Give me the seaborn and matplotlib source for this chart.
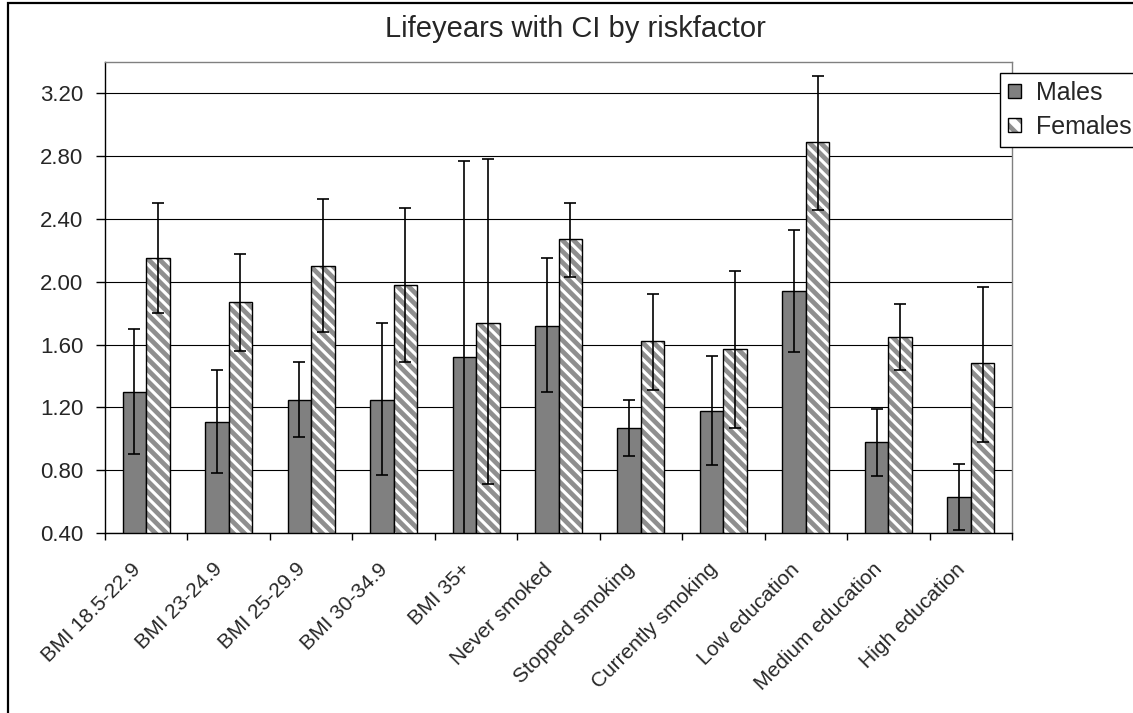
import numpy as np
import pandas as pd
import matplotlib
matplotlib.use("Agg")
import matplotlib.pyplot as plt
import matplotlib.transforms as mtransforms
import seaborn as sns
from matplotlib.patches import Patch, Rectangle
from matplotlib.legend_handler import HandlerTuple
from matplotlib.ticker import FixedLocator, NullFormatter, FormatStrFormatter

categories = ["BMI 18.5-22.9", "BMI 23-24.9", "BMI 25-29.9", "BMI 30-34.9", "BMI 35+",
              "Never smoked", "Stopped smoking", "Currently smoking",
              "Low education", "Medium education", "High education"]
series = ["Males", "Females"]
males = [1.30, 1.11, 1.25, 1.25, 1.52, 1.72, 1.07, 1.18, 1.94, 0.98, 0.63]
males_lo = [0.90, 0.78, 1.01, 0.77, 0.27, 1.30, 0.89, 0.83, 1.55, 0.76, 0.42]
males_hi = [1.70, 1.44, 1.49, 1.74, 2.77, 2.15, 1.25, 1.53, 2.33, 1.19, 0.84]
females = [2.15, 1.87, 2.10, 1.98, 1.74, 2.27, 1.62, 1.57, 2.89, 1.65, 1.48]
females_lo = [1.80, 1.56, 1.68, 1.49, 0.71, 2.03, 1.31, 1.07, 2.46, 1.44, 0.98]
females_hi = [2.50, 2.18, 2.53, 2.47, 2.78, 2.50, 1.92, 2.07, 3.31, 1.86, 1.97]
yticks = [0.40, 0.80, 1.20, 1.60, 2.00, 2.40, 2.80, 3.20]
title = "Lifeyears with CI by riskfactor"

sns.set_style("white")
plt.rcParams["font.family"] = ["Liberation Sans", "DejaVu Sans"]
plt.rcParams["hatch.linewidth"] = 3.4

df = pd.DataFrame({
    "category": categories * 2,
    "sex": [series[0]] * len(categories) + [series[1]] * len(categories),
    "value": males + females,
})

W, H = 1133, 713
fig = plt.figure(figsize=(W / 100, H / 100), dpi=100)
ax = fig.add_axes([105 / W, 1 - 533 / H, (1012 - 105) / W, (533 - 62) / H])

male_col = "#808080"
hatch_col = "#8f8f8f"
HATCH = "\\\\\\"
sns.barplot(data=df, x="category", y="value", hue="sex", order=categories,
            hue_order=series, palette=[male_col, "white"], width=0.57,
            errorbar=None, ax=ax, legend=False, saturation=1,
            edgecolor="black", linewidth=1.0, zorder=2)

# Females: grey diagonal hatch with black outline
for p in ax.containers[1]:
    p.set_hatch(HATCH)
    p.set_edgecolor(hatch_col)
    p.set_linewidth(0)
    ax.add_patch(Rectangle((p.get_x(), p.get_y()), p.get_width(), p.get_height(),
                           fill=False, edgecolor="black", linewidth=1.0, zorder=2.5))

# error bars
for cont, vals, lo, hi in [(ax.containers[0], males, males_lo, males_hi),
                           (ax.containers[1], females, females_lo, females_hi)]:
    xs = [p.get_x() + p.get_width() / 2 for p in cont]
    v = np.array(vals)
    ax.errorbar(xs, v, yerr=[v - np.array(lo), np.array(hi) - v], fmt="none",
                ecolor="black", elinewidth=1.2, capsize=4.6, capthick=1.2, zorder=3)

ax.set_ylim(0.4, 3.4)
ax.set_xlim(-0.5, len(categories) - 0.5)
ax.yaxis.set_major_locator(FixedLocator(yticks))
ax.yaxis.set_major_formatter(FormatStrFormatter("%.2f"))
ax.yaxis.grid(True, color="black", linewidth=0.8, zorder=0)
ax.set_axisbelow(True)

ax.xaxis.set_major_locator(FixedLocator(np.arange(-0.5, len(categories), 1.0)))
ax.xaxis.set_major_formatter(NullFormatter())
ax.xaxis.set_minor_locator(FixedLocator(np.arange(len(categories))))
ax.set_xticklabels(categories, minor=True)
ax.tick_params(axis="x", which="major", direction="out", length=5, width=1, color="black", bottom=True)
ax.tick_params(axis="x", which="minor", length=0, pad=24, labelsize=15)
ax.tick_params(axis="y", direction="out", length=6.5, width=1, color="black", left=True,
               labelsize=16, pad=9)
shift = mtransforms.ScaledTranslation(-9 / 100, 0, fig.dpi_scale_trans)
for lab in ax.get_xticklabels(minor=True):
    lab.set_rotation(45)
    lab.set_ha("right")
    lab.set_va("center")
    lab.set_rotation_mode("anchor")
    lab.set_transform(lab.get_transform() + shift)

ax.set_xlabel("")
ax.set_ylabel("")
for s in ["left", "bottom"]:
    ax.spines[s].set_color("black")
    ax.spines[s].set_linewidth(1.0)
for s in ["top", "right"]:
    ax.spines[s].set_color("#808080")
    ax.spines[s].set_linewidth(1.0)

# legend
h_m = Patch(facecolor=male_col, edgecolor="black", linewidth=1.0)
h_f1 = Patch(facecolor="white", edgecolor=hatch_col, hatch="\\\\", linewidth=0)
h_f2 = Patch(facecolor="none", edgecolor="black", linewidth=1.0)
leg = fig.legend([h_m, (h_f1, h_f2)], series,
                 handler_map={tuple: HandlerTuple(ndivide=1, pad=0)},
                 loc="upper left", bbox_to_anchor=(1000 / W, 1 - 73 / H),
                 fontsize=18, frameon=True, fancybox=False, framealpha=1,
                 edgecolor="black", handlelength=0.5, handleheight=0.5,
                 handletextpad=0.6, borderpad=0.32, labelspacing=0.4,
                 borderaxespad=0)
leg.get_frame().set_linewidth(1.0)

fig.text(575 / W, 1 - 29 / H, title, ha="center", va="center", fontsize=21)

# outer chart border
fig.patches.append(Rectangle((8 / W, -0.05), 1.2, (1 - 3 / H) + 0.05,
                             transform=fig.transFigure, fill=False,
                             edgecolor="black", linewidth=1.6, zorder=0))

fig.savefig("out.png", dpi=100)
